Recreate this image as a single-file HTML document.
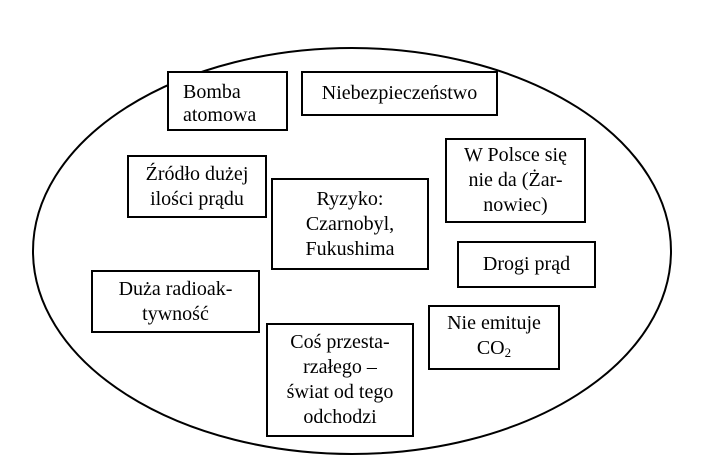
<!DOCTYPE html>
<html><head><meta charset="utf-8"><style>
body{margin:0;width:716px;height:471px;background:#fff;position:relative;overflow:hidden;font-family:"Liberation Serif",serif;font-size:20px;color:#000}
.b{position:absolute;border:2px solid #000;box-sizing:border-box;background:#fff;display:flex;flex-direction:column;justify-content:center;align-items:center;text-align:center;line-height:25px;white-space:nowrap}
</style></head><body>
<svg width="716" height="471" style="position:absolute;left:0;top:0"><ellipse cx="352" cy="251" rx="319" ry="203" fill="none" stroke="#000" stroke-width="2"/></svg>
<div class="b" style="left:167px;top:71px;width:121px;height:60px;align-items:flex-start;padding-left:14px;padding-top:6px;text-align:left;line-height:23px">Bomba<br>atomowa</div>
<div class="b" style="left:301px;top:71px;width:197px;height:45px">Niebezpieczeństwo</div>
<div class="b" style="left:127px;top:155px;width:140px;height:63px">Źródło dużej<br>ilości prądu</div>
<div class="b" style="left:271px;top:178px;width:158px;height:92px">Ryzyko:<br>Czarnobyl,<br>Fukushima</div>
<div class="b" style="left:445px;top:138px;width:141px;height:85px">W Polsce się<br>nie da (Żar-<br>nowiec)</div>
<div class="b" style="left:457px;top:241px;width:139px;height:47px">Drogi prąd</div>
<div class="b" style="left:91px;top:270px;width:169px;height:63px">Duża radioak-<br>tywność</div>
<div class="b" style="left:428px;top:305px;width:132px;height:65px">Nie emituje<br><span>CO<sub style="font-size:13px;vertical-align:-3px">2</sub></span></div>
<div class="b" style="left:266px;top:323px;width:148px;height:114px">Coś przesta-<br>rzałego –<br>świat od tego<br>odchodzi</div>
</body></html>
